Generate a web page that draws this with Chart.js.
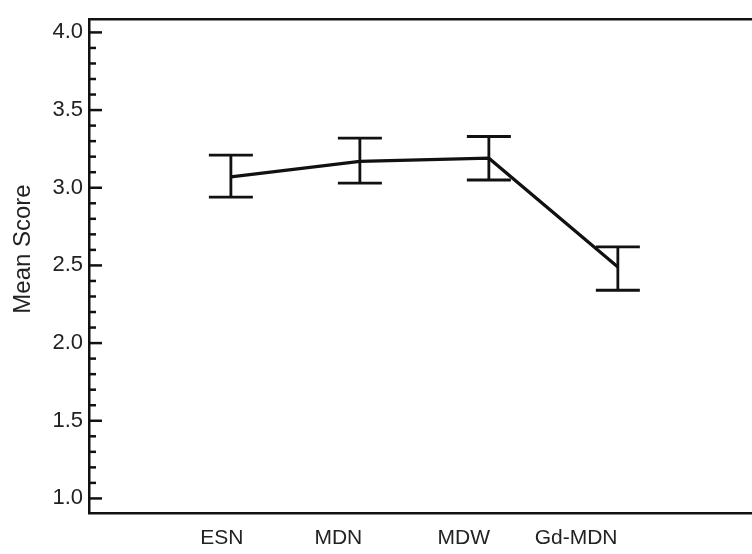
<!DOCTYPE html>
<html>
<head>
<meta charset="utf-8">
<script src="https://cdn.jsdelivr.net/npm/chart.js@4.4.1/dist/chart.umd.min.js"></script>
<style>
  html, body { margin: 0; padding: 0; background: #fff; }
  #wrap { width: 752px; height: 554px; }
</style>
</head>
<body>
<div id="wrap"><canvas id="c"></canvas></div>
<script>
const categories = ['ESN', 'MDN', 'MDW', 'Gd-MDN'];
const meanScores = [3.07, 3.17, 3.19, 2.49];
const upperCI = [3.21, 3.32, 3.33, 2.62];
const lowerCI = [2.94, 3.03, 3.05, 2.34];
const yTickLabels = ['1.0', '1.5', '2.0', '2.5', '3.0', '3.5', '4.0'];
const yTitle = 'Mean Score';

// labels sit a little left of their points in the original
const labelShift = [-0.07, -0.167, -0.195, -0.324];

const FONT = '"Liberation Sans", Arial, sans-serif';
const INK = '#111';
const TEXT = '#222';

const errorBars = {
  id: 'errorBars',
  afterDatasetsDraw(chart) {
    const { ctx, scales: { x, y }, chartArea } = chart;
    ctx.save();
    ctx.strokeStyle = INK;
    ctx.lineWidth = 2.8;
    ctx.lineCap = 'butt';
    categories.forEach((c, i) => {
      const px = x.getPixelForValue(i);
      const top = y.getPixelForValue(upperCI[i]);
      const bot = y.getPixelForValue(lowerCI[i]);
      ctx.beginPath();
      ctx.moveTo(px, top); ctx.lineTo(px, bot);
      ctx.moveTo(px - 22, top); ctx.lineTo(px + 22, top);
      ctx.moveTo(px - 22, bot); ctx.lineTo(px + 22, bot);
      ctx.stroke();
    });
    // inward y ticks, long for labelled values
    ctx.lineWidth = 2.5;
    y.ticks.forEach(t => {
      const py = y.getPixelForValue(t.value);
      const major = yTickLabels.includes(t.value.toFixed(1));
      ctx.beginPath();
      ctx.moveTo(chartArea.left, py);
      ctx.lineTo(chartArea.left + (major ? 13 : 7), py);
      ctx.stroke();
    });
    // axis title, a bit above the middle as in the original
    ctx.fillStyle = TEXT;
    ctx.font = '24px ' + FONT;
    ctx.textAlign = 'center';
    ctx.textBaseline = 'middle';
    ctx.translate(23, 249);
    ctx.rotate(-Math.PI / 2);
    ctx.fillText(yTitle, 0, 0);
    ctx.restore();
  }
};

new Chart(document.getElementById('c'), {
  type: 'line',
  data: {
    datasets: [{
      data: categories.map((c, i) => ({ x: i, y: meanScores[i] })),
      borderColor: INK,
      borderWidth: 3.2,
      pointRadius: 0,
      tension: 0,
      fill: false
    }]
  },
  options: {
    responsive: true,
    maintainAspectRatio: false,
    animation: false,
    layout: { padding: 0 },
    plugins: { legend: { display: false }, tooltip: { enabled: false } },
    scales: {
      x: {
        type: 'linear',
        min: -1.1,
        max: 4.04,
        grid: { display: false, drawTicks: false },
        border: { display: true, color: INK, width: 2.5 },
        afterBuildTicks: (s) => {
          s.ticks = categories.map((c, i) => ({ value: i + labelShift[i] }));
        },
        afterFit: (s) => { s.height = 40.5; },
        ticks: {
          autoSkip: false,
          maxRotation: 0,
          padding: 12,
          color: TEXT,
          font: { family: FONT, size: 21 },
          callback: (v, i) => categories[i]
        }
      },
      x2: {
        type: 'linear',
        position: 'top',
        min: -1.1,
        max: 4.04,
        grid: { display: false, drawTicks: false },
        border: { display: true, color: INK, width: 2.5 },
        ticks: { display: false },
        afterFit: (s) => { s.height = 7; }
      },
      y: {
        min: 0.903,
        max: 4.085,
        grid: { display: false, drawTicks: false },
        border: { display: true, color: INK, width: 2.5 },
        afterBuildTicks: (s) => {
          const t = [];
          for (let k = 10; k <= 40; k++) t.push({ value: k / 10 });
          s.ticks = t;
        },
        afterFit: (s) => { s.width = 89; },
        ticks: {
          autoSkip: false,
          padding: 6,
          color: TEXT,
          font: { family: FONT, size: 22 },
          callback: (v) => {
            const s = Number(v).toFixed(1);
            return yTickLabels.includes(s) ? s : '';
          }
        },
        title: { display: false }
      }
    }
  },
  plugins: [errorBars]
});
</script>
</body>
</html>
